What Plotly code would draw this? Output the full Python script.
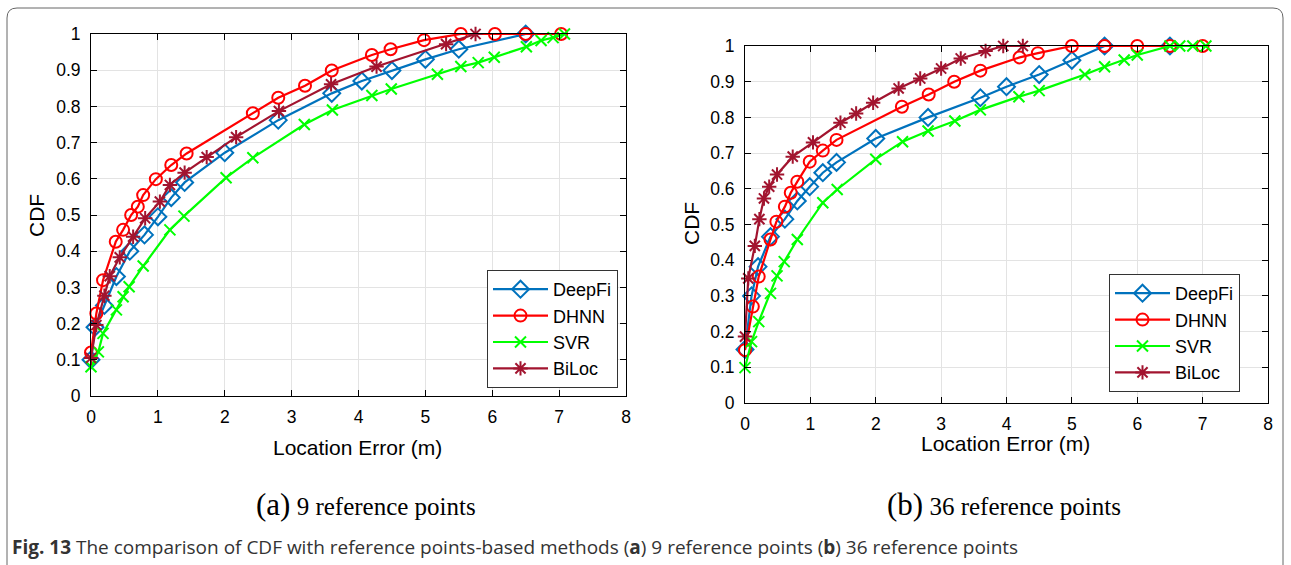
import plotly.graph_objects as go

# ---------------- data: (a) 9 reference points ----------------
deepfi_a_x = [0, 0.06, 0.2, 0.38, 0.58, 0.8, 1.0, 1.2, 1.4, 2.0, 2.8, 3.6, 4.05, 4.5, 5.0, 5.5, 6.5]
deepfi_a_y = [0.10, 0.19, 0.25, 0.33, 0.40, 0.445, 0.495, 0.548, 0.59, 0.672, 0.762, 0.836, 0.87, 0.899, 0.93, 0.958, 1.0]

dhnn_a_x = [0, 0.08, 0.18, 0.37, 0.48, 0.6, 0.7, 0.78, 0.97, 1.2, 1.43, 2.42, 2.8, 3.2, 3.6, 4.2, 4.48, 4.98, 5.53, 6.04, 6.5, 7.03]
dhnn_a_y = [0.12, 0.228, 0.32, 0.426, 0.459, 0.5, 0.523, 0.555, 0.599, 0.638, 0.67, 0.781, 0.824, 0.857, 0.899, 0.942, 0.958, 0.983, 1.0, 1.0, 1.0, 1.0]

svr_a_x = [0, 0.11, 0.18, 0.38, 0.48, 0.57, 0.78, 1.18, 1.39, 2.02, 2.42, 3.19, 3.61, 4.2, 4.49, 5.18, 5.53, 5.79, 6.03, 6.51, 6.73, 6.91, 7.08]
svr_a_y = [0.081, 0.122, 0.173, 0.238, 0.274, 0.302, 0.359, 0.459, 0.497, 0.603, 0.658, 0.75, 0.79, 0.83, 0.848, 0.889, 0.91, 0.921, 0.936, 0.965, 0.982, 0.99, 1.0]

biloc_a_x = [0, 0.08, 0.2, 0.28, 0.43, 0.63, 0.81, 1.03, 1.18, 1.4, 1.73, 2.17, 2.81, 3.59, 4.27, 5.31, 5.75]
biloc_a_y = [0.105, 0.196, 0.277, 0.331, 0.383, 0.44, 0.491, 0.537, 0.583, 0.617, 0.66, 0.715, 0.787, 0.861, 0.91, 0.972, 1.0]

# ---------------- data: (b) 36 reference points ----------------
deepfi_b_x = [0, 0.1, 0.2, 0.39, 0.61, 0.8, 0.99, 1.19, 1.4, 2.0, 2.8, 3.6, 4.0, 4.5, 5.0, 5.5, 6.5]
deepfi_b_y = [0.15, 0.3, 0.382, 0.466, 0.515, 0.566, 0.606, 0.645, 0.674, 0.741, 0.8, 0.855, 0.886, 0.92, 0.96, 1.0, 1.0]

dhnn_b_x = [0, 0.12, 0.21, 0.39, 0.48, 0.61, 0.7, 0.8, 0.99, 1.19, 1.4, 2.4, 2.81, 3.2, 3.6, 4.2, 4.48, 5.0, 5.5, 6.0, 6.5, 7.0]
dhnn_b_y = [0.148, 0.27, 0.354, 0.458, 0.508, 0.55, 0.589, 0.62, 0.676, 0.707, 0.737, 0.83, 0.864, 0.9, 0.931, 0.968, 0.98, 1.0, 1.0, 1.0, 1.0, 1.0]

svr_b_x = [0, 0.1, 0.21, 0.39, 0.49, 0.6, 0.8, 1.19, 1.41, 2.0, 2.41, 2.8, 3.21, 3.6, 4.19, 4.5, 5.2, 5.5, 5.8, 6.0, 6.5, 6.65, 6.85, 7.05]
svr_b_y = [0.099, 0.172, 0.228, 0.307, 0.356, 0.396, 0.458, 0.561, 0.598, 0.683, 0.732, 0.762, 0.79, 0.821, 0.858, 0.875, 0.92, 0.942, 0.961, 0.975, 1.0, 1.0, 1.0, 1.0]

biloc_b_x = [0, 0.05, 0.15, 0.22, 0.29, 0.37, 0.49, 0.73, 1.04, 1.46, 1.7, 1.96, 2.35, 2.68, 3.0, 3.3, 3.68, 3.95, 4.25]
biloc_b_y = [0.186, 0.349, 0.44, 0.515, 0.573, 0.606, 0.64, 0.69, 0.73, 0.785, 0.811, 0.841, 0.881, 0.909, 0.937, 0.965, 0.986, 1.0, 1.0]

series_names = ["DeepFi", "DHNN", "SVR", "BiLoc"]
x_ticks = [0, 1, 2, 3, 4, 5, 6, 7, 8]
y_ticks = [0, 0.1, 0.2, 0.3, 0.4, 0.5, 0.6, 0.7, 0.8, 0.9, 1]
y_tick_labels = ["0", "0.1", "0.2", "0.3", "0.4", "0.5", "0.6", "0.7", "0.8", "0.9", "1"]

styles = {
    "DeepFi": dict(color="#0072BD", symbol="diamond-open", size=13),
    "DHNN": dict(color="#FF0000", symbol="circle-open", size=12),
    "SVR": dict(color="#00FF00", symbol="x-thin-open", size=11),
    "BiLoc": dict(color="#A2142F", symbol="asterisk-open", size=12),
}

W, H = 1291, 565
def px(x): return x / W
def py(y): return 1 - y / H

SANS = "Liberation Sans, Arial, Helvetica"

fig = go.Figure()

panel_a = {"DeepFi": (deepfi_a_x, deepfi_a_y), "DHNN": (dhnn_a_x, dhnn_a_y),
           "SVR": (svr_a_x, svr_a_y), "BiLoc": (biloc_a_x, biloc_a_y)}
panel_b = {"DeepFi": (deepfi_b_x, deepfi_b_y), "DHNN": (dhnn_b_x, dhnn_b_y),
           "SVR": (svr_b_x, svr_b_y), "BiLoc": (biloc_b_x, biloc_b_y)}

for panel, xa, ya, leg in [(panel_a, "x", "y", "legend"), (panel_b, "x2", "y2", "legend2")]:
    for name in series_names:
        xs, ys = panel[name]
        st = styles[name]
        fig.add_trace(go.Scatter(
            x=xs, y=ys, mode="lines+markers", name=name,
            xaxis=xa, yaxis=ya, legend=leg, cliponaxis=False,
            line=dict(color=st["color"], width=2.2),
            marker=dict(symbol=st["symbol"], size=st["size"], color=st["color"],
                        line=dict(color=st["color"], width=2)),
        ))

axis_common = dict(
    showline=True, linecolor="black", linewidth=1, mirror="ticks",
    ticks="inside", ticklen=6, tickcolor="black", tickwidth=1,
    showgrid=True, gridcolor="#e3e3e3", gridwidth=1, zeroline=False,
    automargin=False,
    tickfont=dict(family=SANS, size=17.5, color="black"),
)

legend_common = dict(bgcolor="white", bordercolor="#333", borderwidth=1, itemwidth=55,
                     xanchor="right", yanchor="bottom",
                     font=dict(family=SANS, size=18, color="black"))

fig.update_layout(
    template="none",
    width=W, height=H, margin=dict(l=0, r=0, t=0, b=0, pad=0),
    paper_bgcolor="white", plot_bgcolor="white",
    xaxis=dict(domain=[px(91), px(626)], range=[0, 8], tickvals=x_ticks, anchor="y",
               ticklabelstandoff=5, **axis_common),
    yaxis=dict(domain=[py(396), py(34)], range=[0, 1], tickvals=y_ticks, ticktext=y_tick_labels, anchor="x",
               ticklabelstandoff=6, **axis_common),
    xaxis2=dict(domain=[px(745), px(1268)], range=[0, 8], tickvals=x_ticks, anchor="y2",
                ticklabelstandoff=5, **axis_common),
    yaxis2=dict(domain=[py(403), py(46)], range=[0, 1], tickvals=y_ticks, ticktext=y_tick_labels, anchor="x2",
                ticklabelstandoff=6, **axis_common),
    legend=dict(x=px(618), y=py(388), **legend_common),
    legend2=dict(x=px(1240), y=py(392), **legend_common),
    showlegend=True,
)

def note(x, y, text, font, **kw):
    fig.add_annotation(x=px(x), y=py(y), xref="paper", yref="paper", showarrow=False,
                       xanchor=kw.pop("xanchor", "center"), yanchor="middle",
                       text=text, font=font, **kw)

# axis titles
title_font = dict(family=SANS, size=21, color="black")
note(357, 447, "Location Error (m)", title_font)
note(1006, 443, "Location Error (m)", title_font)
note(36, 216, "CDF", title_font, textangle=-90)
note(691, 224, "CDF", title_font, textangle=-90)

# subplot captions
serif = dict(family="Liberation Serif, Times New Roman", size=25, color="black")
note(366, 505, '<span style="font-size:31px">(a)</span> 9 reference points', serif)
note(1004, 505, '<span style="font-size:31px">(b)</span> 36 reference points', serif)

# figure caption
note(10, 547,
     "<b>Fig. 13</b> The comparison of CDF with reference points-based methods (<b>a</b>) 9 reference points (<b>b</b>) 36 reference points",
     dict(family="Open Sans, Noto Sans", size=19, color="#333333"), xanchor="left")

# rounded frame around the figure
fig.add_shape(type="path", xref="paper", yref="paper",
              path=f"M {px(7)},{py(566)} L {px(7)},{py(18)} Q {px(7)},{py(8)} {px(17)},{py(8)} "
                   f"L {px(1273)},{py(8)} Q {px(1283)},{py(8)} {px(1283)},{py(18)} L {px(1283)},{py(566)}",
              line=dict(color="#666666", width=1))

fig.write_html("out.html")
